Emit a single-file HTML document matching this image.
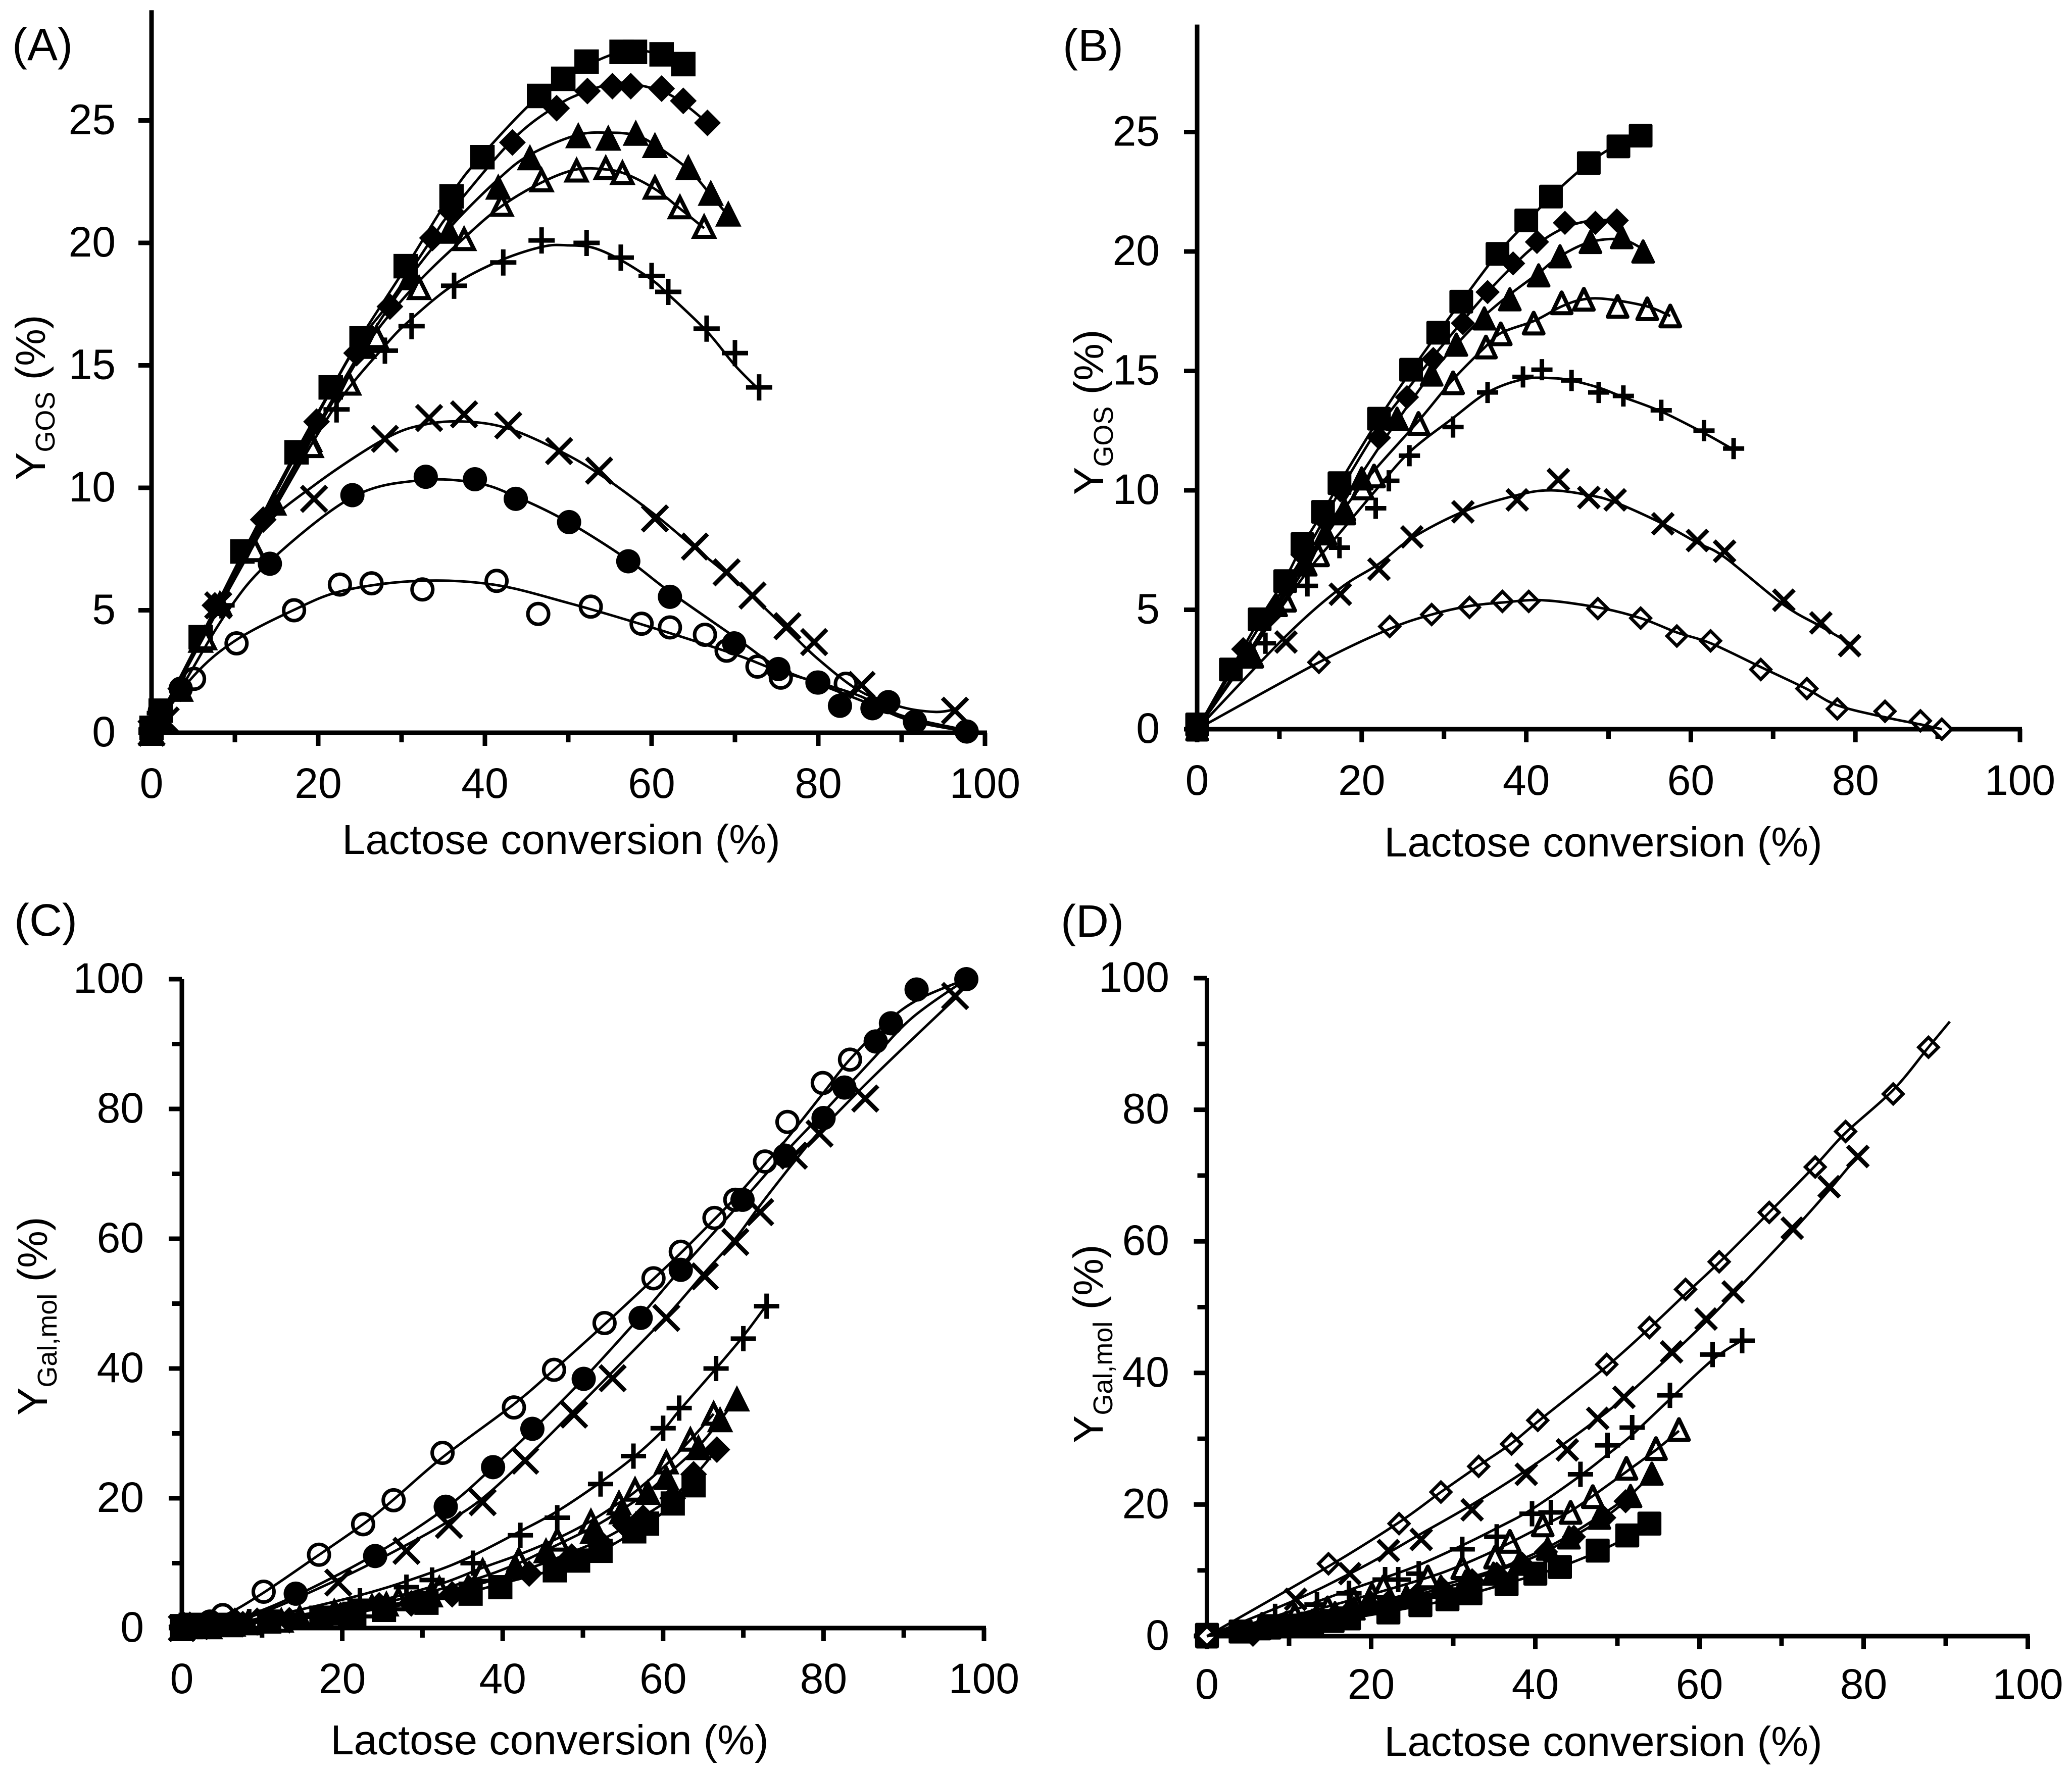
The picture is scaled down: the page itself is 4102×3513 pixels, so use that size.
<!DOCTYPE html>
<html lang="en">
<head>
<meta charset="utf-8">
<title>GOS and galactose yields versus lactose conversion</title>
<style>
html,body{margin:0;padding:0;background:#fff}
svg{display:block}
text{font-family:"Liberation Sans",Arial,sans-serif;fill:#000}
</style>
</head>
<body>
<svg id="figure" xmlns="http://www.w3.org/2000/svg" width="4102" height="3513" viewBox="0 0 4102 3513">
<rect x="0" y="0" width="4102" height="3513" fill="#fff"/>
<g id="panel-a"></g>
<g id="panel-b"></g>
<g id="panel-c"></g>
<g id="panel-d"></g>
<text x="24" y="119" font-size="90">(A)</text>
<text x="2104" y="121" font-size="90">(B)</text>
<text x="28" y="1853" font-size="90">(C)</text>
<text x="2100" y="1855" font-size="90">(D)</text>
<text x="1111" y="1691" font-size="83" text-anchor="middle">Lactose conversion (%)</text>
<text x="3174" y="1696" font-size="83" text-anchor="middle">Lactose conversion (%)</text>
<text x="1088" y="3474" font-size="83" text-anchor="middle">Lactose conversion (%)</text>
<text x="3174" y="3477" font-size="83" text-anchor="middle">Lactose conversion (%)</text>
<text transform="translate(89 951) rotate(-90)" font-size="83">Y<tspan font-size="54" dy="19">GOS</tspan><tspan dy="-19" xml:space="preserve"> (%)</tspan></text>
<text transform="translate(2184 980) rotate(-90)" font-size="83">Y<tspan font-size="54" dy="19">GOS</tspan><tspan dy="-19" xml:space="preserve"> (%)</tspan></text>
<text transform="translate(93 2803) rotate(-90)" font-size="83">Y<tspan font-size="54" dy="19">Gal,mol</tspan><tspan dy="-19" xml:space="preserve"> (%)</tspan></text>
<text transform="translate(2183 2858) rotate(-90)" font-size="83">Y<tspan font-size="54" dy="19">Gal,mol</tspan><tspan dy="-19" xml:space="preserve"> (%)</tspan></text>
</svg>
<script>
// ---- tick labels ----
const xMajorTicks = [0,20,40,60,80,100];
const xMinorTicks = [10,30,50,70,90];
const gosTicks = [0,5,10,15,20,25];
const galTicks = [0,20,40,60,80,100];
const galMinorTicks = [10,30,50,70,90];
const noTicks = [];

// ---- panels A / C : lactose conversion of each series ----
const acSquareX = [0,1.1,5.9,10.9,17.4,21.5,25.2,30.5,36,39.7,46.5,49.4,52.2,56.4,58,61.2,63.8];
const acDiamondX = [0,1,3.5,7.6,13.4,19.8,24.6,28.6,33.7,35.9,43.3,48.6,52.3,55.3,57.5,61.2,63.8,66.7];
const acTriangleX = [0,1,3.5,5.9,8.2,14.7,19,25.5,31,35.7,41.6,45.4,51.2,54.8,58.1,60.4,64.4,67.1,69.2];
const acOpenTriangleX = [0,3.5,6.4,12.4,19.2,23.7,27,32.1,37.5,42,46.8,51,54.5,56.5,60.4,63.4,66.3];
const acPlusX = [0,1,8.4,22.2,28,31.2,36.3,42.2,46.8,52.2,56.3,60,62,66.6,70,72.9];
const acCrossX = [0,1.7,8,19.5,28,33.3,37.5,42.8,48.9,53.7,60.4,65.2,69,72.1,76.3,79.5,85.2,96.4];
const acCircleX = [0,1,3.5,14.2,24.1,32.9,38.8,43.7,50.1,57.2,62.2,69.9,75.2,80,82.6,86.5,88.4,91.6,97.8];
const acOpenCircleX = [0,5.1,10.2,17.1,22.6,26.4,32.5,41.4,46.4,52.7,58.8,62.2,66.4,69,72.7,75.5,79.9,83.3];

// ---- panel A : GOS yield ----
const aSquareY = [0.2,0.9,3.9,7.4,11.45,14.1,16.1,19.05,21.9,23.5,26,26.7,27.4,27.8,27.8,27.7,27.3];
const aDiamondY = [0.2,0.8,1.8,5.2,8.7,12.7,15.5,17.4,20.2,21.3,24.1,25.5,26.2,26.4,26.4,26.3,25.8,24.9];
const aTriangleY = [0.1,0.6,1.8,3.8,5.3,9.4,12,15.8,18.6,20.5,22.3,23.5,24.4,24.3,24.5,24,23.1,22.05,21.2];
const aOpenTriangleY = [0,1.8,3.9,7.5,11.75,14.3,16.2,18.2,20.2,21.6,22.6,23,23.1,22.9,22.3,21.5,20.7];
const aPlusY = [0.1,0.8,5.2,13.2,15.6,16.6,18.25,19.2,20.1,20,19.4,18.65,18,16.5,15.5,14.1];
const aCrossY = [0,0.5,5.2,9.55,12,12.85,13,12.55,11.5,10.7,8.75,7.6,6.55,5.6,4.35,3.7,1.95,0.9];
const aCircleY = [0,0.9,1.8,6.9,9.7,10.45,10.35,9.55,8.6,7,5.55,3.65,2.6,2.05,1.1,1,1.25,0.45,0.05];
const aOpenCircleY = [0,2.2,3.65,5,6.05,6.1,5.85,6.2,4.85,5.15,4.45,4.3,4,3.35,2.7,2.25,2.05,2];

// panel A fitted curves
const aSquareFitX = [0,5.9,10.9,17.4,21.5,25.2,30.5,36,39.7,46.5,52,57,61,63.8];
const aSquareFitY = [0,3.9,7.3,11.5,14,16.2,19,22,23.6,26,27.2,27.85,27.7,27.3];
const aDiamondFitX = [0,7.6,13.4,19.8,24.6,28.6,33.7,36,43.3,48.6,52.3,55.3,57.5,61.2,63.8,66.7];
const aDiamondFitY = [0,5,8.8,12.9,15.8,17.6,20.2,21.3,24.2,25.6,26.2,26.5,26.5,26.2,25.7,24.9];
const aTriangleFitX = [0,8.2,14.7,19,25.5,31,36,41.6,45.4,51,55,58,60.4,64.4,67,69.2];
const aTriangleFitY = [0,5.3,9.4,12,15.8,18.6,20.7,22.6,23.6,24.4,24.5,24.4,24,23,22,21.1];
const aOpenTriangleFitX = [0,6.4,12.4,19.2,24,27,32,37.5,42,47,51,54.5,57,60.4,63.4,66.3];
const aOpenTriangleFitY = [0,4,7.9,12,14.8,16.4,18.4,20.2,21.5,22.5,23,23,22.8,22.2,21.4,20.6];
const aPlusFitX = [0,8.4,15,22,28,31.2,36.3,42,47,50,53,56.3,60,62,66.6,70,72.9];
const aPlusFitY = [0,5.3,9.3,13.3,15.8,16.9,18.3,19.3,19.85,19.9,19.8,19.3,18.5,17.9,16.4,15,14];
const aCrossFitX = [0,8,13,19.5,28,33,38,43,49,54,60.4,65,69,72,76.3,80,85,90,94,96.4];
const aCrossFitY = [0,5.2,8.2,10.1,12,12.6,12.7,12.4,11.5,10.5,8.9,7.6,6.5,5.6,4.2,3,1.7,1.05,0.85,0.95];
const aCircleFitX = [0,3.5,9,14.2,24,32,39,44,50,57,62,70,75,80,86,91,97.8];
const aCircleFitY = [0,1.8,4.9,7,9.6,10.3,10.2,9.6,8.6,7.1,5.8,3.9,2.7,2,1.2,0.5,0.05];
const aOpenCircleFitX = [0,5,10,17,23,32,41,50,60,70,75,80,85,90,97.8];
const aOpenCircleFitY = [0,2.3,3.75,5,5.8,6.2,6.05,5.3,4.3,3.2,2.55,2.05,1.5,0.7,0.1];

// ---- panel C : galactose yield ----
const cSquareY = [0.3,0.5,0.5,1,1.6,2.2,2.8,3.9,5.3,6.3,8.9,10.4,11.9,14.9,16.1,19.2,22];
const cDiamondY = [0.4,0.5,0.3,0.6,1.2,2,3.5,3.8,5.2,6,8.4,11,13,15.8,17,20,23.7,27.5];
const cTriangleY = [0.1,0.3,0.3,0.6,0.9,1.8,2.7,3.8,5.2,6.5,9.5,12,15,18,21,23.3,27.9,32.2,35.4];
const cOpenTriangleY = [0,0.3,0.7,1.3,2.4,3.5,4.6,6.3,9,10.7,13.8,16.6,19.4,21.5,25.7,29.2,33.2];
const cPlusY = [0.1,0.3,1,4.2,6.3,7.4,10,14.3,17,22.2,26.5,30.8,33.9,40,44.6,49.6];
const cCrossY = [0,0.3,1,7,11.9,15.9,19.4,25.8,32.9,38.5,47.8,54.2,59.5,64.1,72.8,76.2,81.6,97.4];
const cCircleY = [0,0.4,1,5.3,11.1,18.7,24.8,30.7,38.4,47.8,55.2,66,72.8,78.6,83.3,90.4,93.2,98.4,100];
const cOpenCircleY = [0,2,5.6,11.3,16,19.7,27,34,39.8,47,53.9,58,63.2,66,71.9,78,84,87.6];

// panel C fitted curves
const cSquareFitX = [0,10.9,21.5,30.5,36,39.7,46.5,49.4,52.2,56.4,58,61.2,63.8];
const cSquareFitY = [0,1,2.4,4.2,5.6,6.8,9,10.3,11.8,14.8,16,19,22];
const cDiamondFitX = [0,13.4,24.6,33.7,43.3,48.6,52.3,55.3,57.5,61.2,63.8,66.7];
const cDiamondFitY = [0,1.4,3.3,5.6,9.2,11.7,13.6,15.6,17.2,20.2,23.3,27.5];
const cTriangleFitX = [0,14.7,25.5,35.7,41.6,45.4,51.2,54.8,58.1,60.4,64.4,67.1,69.2];
const cTriangleFitY = [0,1.8,4,7.2,9.8,12,15.5,18.2,21,23.5,28,32,35.5];
const cOpenTriangleFitX = [0,12.4,23.7,32,37.5,42,46.8,51,54.5,56.5,60.4,63.4,66.3];
const cOpenTriangleFitY = [0,1.6,4,6.7,9.3,11.3,13.8,16.5,19.3,21,25.2,29,33];
const cPlusFitX = [0,8.4,22,31,36,42,46.8,52,56.3,60,62,66.6,70,72.9];
const cPlusFitY = [0,1.2,5,8.5,11,14.8,18,22.3,26.3,30.5,33.5,40,45,49.8];
const cCrossFitX = [0,8,19.5,28,33.3,37.5,42.8,48.9,53.7,60.4,65.2,69,72,76.3,79.5,85,90,96.4];
const cCrossFitY = [0,1.5,7.5,12.8,16.5,20,26,33.5,39.5,48,54.8,60,65,71.8,76.5,83.5,89.5,97];
const cCircleFitX = [0,7,14.2,24,32.9,38.8,43.7,50,57,62,70,75,80,86,91,97.8];
const cCircleFitY = [0,1.5,5,11.3,18.5,24.8,30.5,38.3,47.8,55,66,73,79.5,87.5,94,100];
const cOpenCircleFitX = [0,5,10,17,22.6,26.4,32.5,41.4,46.4,52.7,58.8,62.2,66.4,69,72.7,75.5,80,83.2,88,92,97.8];
const cOpenCircleFitY = [0,1.8,5.3,11.2,16,19.8,26.3,34.5,39.8,46.8,53.8,57.8,63,66.3,71.5,75.5,82.5,87.5,93.5,97,100];

// ---- panels B / D : lactose conversion of each series ----
const bdSquareX = [0,4.1,7.6,10.7,12.8,15.3,17.3,22.1,26,29.3,32.1,36.5,40,43,47.6,51.2,53.9];
const bdDiamondX = [0,5.6,8.7,12.8,15.6,17.4,22.1,25.5,28.7,32.3,35.3,38.4,41.3,44.7,48.4,51];
const bdTriangleX = [0,6.4,9.6,13.2,15.6,17.9,20,24.3,28.5,31.5,34.9,38,41.5,44.1,47.8,51.6,54.2];
const bdOpenTriangleX = [0,6.7,10.7,14.7,17.9,20.1,21.5,26.9,31.1,35.1,36.9,40.9,44.3,47,51.1,54.7,57.5];
const bdPlusX = [0,8.3,13.4,17.3,21.7,23.3,25.8,31.1,35.3,39.6,41.9,45.5,48.8,51.8,56.4,61.6,65.2];
const bdCrossX = [0,10.8,17.4,22.1,26.1,32.3,38.9,43.9,47.6,50.8,56.6,60.8,64.1,71.3,75.8,79.3];
const bdOpenDiamondX = [0,14.8,23.4,28.5,33.1,37.1,40.3,48.7,53.9,58.3,62.4,68.5,74.1,77.8,83.6,87.9,90.5];

// ---- panel B : GOS yield ----
const bSquareY = [0.2,2.5,4.6,6.2,7.75,9.1,10.3,13,15.05,16.6,17.9,19.9,21.3,22.3,23.7,24.4,24.85];
const bDiamondY = [0.1,3.35,4.7,7.3,8.7,10,12.2,13.9,15.5,17,18.3,19.5,20.4,21.2,21.2,21.3];
const bTriangleY = [0,3.2,5.2,6.9,8.2,9.2,10.5,13,14.85,16.1,17.2,18,19,19.8,20.4,20.6,20];
const bOpenTriangleY = [0,3.05,5.4,7.3,9.05,10.1,10.6,12.8,14.5,16,16.55,17,17.85,18,17.7,17.6,17.3];
const bPlusY = [0.1,3.6,6,7.6,9.25,10.4,11.45,12.65,14.1,14.75,15.05,14.6,14.1,13.95,13.35,12.5,11.75];
const bCrossY = [0.1,3.65,5.65,6.7,8.05,9.1,9.6,10.45,9.7,9.6,8.6,7.9,7.45,5.4,4.45,3.5];
const bOpenDiamondY = [0,2.8,4.3,4.8,5.1,5.35,5.35,5.05,4.65,3.9,3.7,2.5,1.7,0.85,0.75,0.35,0];

// panel B fitted curves
const bSquareFitX = [0,4.1,7.6,10.7,12.8,15.3,17.3,22.1,26,29.3,32.1,36.5,40,43,47.6,51.2,53.9];
const bSquareFitY = [0,2.5,4.6,6.3,7.7,9.1,10.3,13,15,16.6,17.9,19.9,21.2,22.3,23.7,24.5,24.9];
const bDiamondFitX = [0,5.6,12.8,17.4,22,25.5,28.7,32.3,35.3,38.4,41.3,44.7,48,51];
const bDiamondFitY = [0,3.2,7.2,10,12.6,14.2,15.6,17.1,18.3,19.4,20.3,21,21.3,21.3];
const bTriangleFitX = [0,6.4,13,20,24.3,28.5,31.5,34.9,38,41.5,44.1,47.8,51.6,54.2];
const bTriangleFitY = [0,3.3,6.9,10.7,12.9,14.9,16.1,17.3,18.2,19.1,19.8,20.4,20.5,20.1];
const bOpenTriangleFitX = [0,6.7,14.7,20,26.9,31,35,37,41,44.3,47,50,54.7,57.5];
const bOpenTriangleFitY = [0,3.3,7.6,10.2,12.9,14.6,16,16.6,17.1,17.7,18,18,17.7,17.3];
const bPlusFitX = [0,8,13.4,17.3,21.7,25.8,31,35.3,39.6,43,45.5,48.8,51.8,56.4,61.6,65.2];
const bPlusFitY = [0,4,6.6,8.2,10,11.6,13,14.1,14.65,14.7,14.6,14.3,13.9,13.3,12.4,11.7];
const bCrossFitX = [0,10.8,17.4,22,26.1,32.3,38.9,43,47.6,50.8,56.6,60.8,64.1,71.3,75.8,79.3];
const bCrossFitY = [0,3.9,5.9,6.9,8,9.1,9.8,10,9.8,9.5,8.6,7.8,7.2,5.2,4.3,3.6];
const bOpenDiamondFitX = [0,14.8,23.4,28.5,33,37,42,48.7,53.9,58.3,62.4,68.5,74,77.8,83.6,87.9,90.5];
const bOpenDiamondFitY = [0,2.8,4.2,4.8,5.15,5.3,5.4,5.1,4.65,4.05,3.6,2.6,1.7,1,0.5,0.2,0];

// ---- panel D : galactose yield ----
const dSquareY = [0.2,0.7,1.3,1.6,1.9,2.3,2.7,3.6,4.7,5.6,6.5,7.9,9.5,10.5,13,15.3,17.1];
const dDiamondY = [0.1,0.2,1.5,2.4,3.2,3.8,5.2,6.2,7.2,8.5,9.5,11,12.8,15.1,18,20.5];
const dTriangleY = [0,1.2,2,2.7,3.5,4.2,5,6,7.5,8.3,9.5,11,13.3,15,18,21.3,24.7];
const dOpenTriangleY = [0,1.8,3.2,4.3,5.5,6.3,7.5,9,10.4,12,14.4,16.9,18.8,21.2,25.5,28.5,31.4];
const dPlusY = [0.1,3,4.8,6.5,8.6,8.6,9.5,13.2,15.1,18.6,18.8,24.6,29,31.7,36.6,42.8,44.9];
const dCrossY = [0.1,5.6,9.5,13,14.7,19.2,24.6,28.3,33.1,36.3,43.2,48.2,52.3,62,68.3,72.9];
const dOpenDiamondY = [0,11,17.1,21.9,25.8,29.2,32.8,41.3,46.9,52.7,56.9,64.4,71.3,76.7,82.4,89.5];

// panel D fitted curves
const dSquareFitX = [0,7.6,15.3,22.1,29.3,36.5,40,43,47.6,51.2,53.9];
const dSquareFitY = [0,1.1,2.3,3.7,5.5,8,9.3,10.5,12.8,15,17.1];
const dDiamondFitX = [0,12.8,22,28.7,32.3,38.4,41.3,44.7,48.4,51];
const dDiamondFitY = [0,2.6,5.2,7.3,8.6,11.3,12.9,15.2,18,20.5];
const dTriangleFitX = [0,9.6,20,28.5,34.9,38,41.5,44.1,47.8,51.6,54.2];
const dTriangleFitY = [0,2.2,5,7.7,10,11.5,13.5,15.3,18.2,21.5,24.7];
const dOpenTriangleFitX = [0,10.7,17.9,26.9,31,35,41,44.3,47,51.1,54.7,57.5];
const dOpenTriangleFitY = [0,3.2,5.6,8.9,10.8,13,16.8,19,21.3,25,28.3,31.2];
const dPlusFitX = [0,8.3,17.3,21.7,25.8,31.1,35.3,39.6,45.5,48.8,51.8,56.4,61.6,65.2];
const dPlusFitY = [0,3,7,8.9,10.8,13.8,16.4,19.3,24.4,27.6,30.6,36,42,45];
const dCrossFitX = [0,10.8,17.4,22,26,32.3,38.9,43.9,47.6,50.8,56.6,60.8,64.1,71.3,75.8,79.3];
const dCrossFitY = [0,5.5,9.5,12.6,15.5,20,25.2,29.6,33,36.2,42.8,47.8,52,61.5,67.8,73];
const dOpenDiamondFitX = [0,14.8,23.4,28.5,33.1,37.1,40.3,48.7,53.9,58.3,62.4,68.5,74.1,77.8,83.6,87.9,90.5];
const dOpenDiamondFitY = [0,10.6,17.3,21.9,25.9,29.3,32.6,41,46.8,52,56.8,64.4,71.5,76.5,83,89.5,93.4];

// ---- drawing ----
const SVGNS = 'http://www.w3.org/2000/svg';
function el(tag, parent, attrs) {
  const e = document.createElementNS(SVGNS, tag);
  for (const k in attrs) e.setAttribute(k, attrs[k]);
  parent.appendChild(e);
  return e;
}
function smoothPath(px, py) {
  let d = 'M' + px[0].toFixed(1) + ' ' + py[0].toFixed(1);
  for (let i = 0; i < px.length - 1; i++) {
    const p0 = Math.max(i - 1, 0), p3 = Math.min(i + 2, px.length - 1);
    const c1x = px[i] + (px[i + 1] - px[p0]) / 6, c1y = py[i] + (py[i + 1] - py[p0]) / 6;
    const c2x = px[i + 1] - (px[p3] - px[i]) / 6, c2y = py[i + 1] - (py[p3] - py[i]) / 6;
    d += 'C' + c1x.toFixed(1) + ' ' + c1y.toFixed(1) + ' ' + c2x.toFixed(1) + ' ' + c2y.toFixed(1) + ' ' + px[i + 1].toFixed(1) + ' ' + py[i + 1].toFixed(1);
  }
  return d;
}
function drawMarker(parent, kind, cx, cy, cfg) {
  let m;
  if (kind === 'square') {
    const s = cfg.squareSize;
    m = el('rect', parent, {x: cx - s / 2, y: cy - s / 2, width: s, height: s, rx: cfg.rounded ? 3 : 0, fill: '#000'});
  } else if (kind === 'diamond') {
    const h = cfg.diamondHalf;
    m = el('polygon', parent, {points: [cx, cy - h, cx + h, cy, cx, cy + h, cx - h, cy].join(' '), fill: '#000'});
  } else if (kind === 'openDiamond') {
    m = el('polygon', parent, {points: [cx, cy - 19.5, cx + 19.5, cy, cx, cy + 19.5, cx - 19.5, cy].join(' '), fill: '#fff', stroke: '#000', 'stroke-width': 6.5});
  } else if (kind === 'triangle') {
    if (cfg.rounded) {
      m = el('polygon', parent, {points: [cx, cy - 21, cx + 20.5, cy + 21, cx - 20.5, cy + 21].join(' '), fill: '#000', stroke: '#000', 'stroke-width': 6, 'stroke-linejoin': 'round'});
    } else {
      m = el('polygon', parent, {points: [cx, cy - 26, cx + 26, cy + 26, cx - 26, cy + 26].join(' '), fill: '#000'});
    }
  } else if (kind === 'openTriangle') {
    if (cfg.rounded) {
      m = el('polygon', parent, {points: [cx, cy - 20.5, cx + 19.5, cy + 20.5, cx - 19.5, cy + 20.5].join(' '), fill: '#fff', stroke: '#000', 'stroke-width': 8, 'stroke-linejoin': 'round'});
    } else {
      m = el('polygon', parent, {points: [cx, cy - 17, cx + 19.5, cy + 22, cx - 19.5, cy + 22].join(' '), fill: '#fff', stroke: '#000', 'stroke-width': 8, 'stroke-linejoin': 'miter'});
    }
  } else if (kind === 'circle') {
    m = el('circle', parent, {cx: cx, cy: cy, r: 24, fill: '#000'});
  } else if (kind === 'openCircle') {
    m = el('circle', parent, {cx: cx, cy: cy, r: 20.5, fill: '#fff', stroke: '#000', 'stroke-width': 7});
  } else if (kind === 'plus') {
    const h = cfg.plusHalf;
    m = el('path', parent, {d: 'M' + (cx - h) + ' ' + cy + 'H' + (cx + h) + 'M' + cx + ' ' + (cy - h) + 'V' + (cy + h), stroke: '#000', 'stroke-width': 9, fill: 'none'});
  } else {
    const h = cfg.crossHalf;
    m = el('path', parent, {d: 'M' + (cx - h) + ' ' + (cy - h) + 'L' + (cx + h) + ' ' + (cy + h) + 'M' + (cx + h) + ' ' + (cy - h) + 'L' + (cx - h) + ' ' + (cy + h), stroke: '#000', 'stroke-width': 8.5, fill: 'none'});
  }
  return m;
}
function drawPanel(cfg) {
  const g = document.getElementById(cfg.id);
  const X = v => cfg.x0 + v * cfg.xUnit;
  const Y = v => cfg.y0 - v * cfg.yUnit;
  const axes = el('g', g, {});
  
  
  const yAxis = el('line', axes, {x1: cfg.x0, x2: cfg.x0, y1: Y(cfg.yMax) , y2: cfg.y0 + 4.5, stroke: '#000', 'stroke-width': 9});
  
  
  const xAxis = el('line', axes, {x1: cfg.x0 - 4.5, x2: X(100) + 4, y1: cfg.y0, y2: cfg.y0, stroke: '#000', 'stroke-width': 9});
  
  
  xMajorTicks.forEach(v => {
    const t = el('line', axes, {x1: X(v), x2: X(v), y1: cfg.y0, y2: cfg.y0 + 26, stroke: '#000', 'stroke-width': 9});
    
    
    const l = el('text', axes, {x: X(v), y: cfg.xLabelY, 'font-size': 84, 'text-anchor': 'middle'});
    
    
    l.textContent = v;
  });
  xMinorTicks.forEach(v => {
    const t = el('line', axes, {x1: X(v), x2: X(v), y1: cfg.y0, y2: cfg.y0 + 19, stroke: '#000', 'stroke-width': 9});
    
    
  });
  cfg.yTicks.forEach(v => {
    const t = el('line', axes, {x1: cfg.x0 - 26, x2: cfg.x0, y1: Y(v), y2: Y(v), stroke: '#000', 'stroke-width': 9});
    
    
    const l = el('text', axes, {x: cfg.yLabelX, y: Y(v) + 27, 'font-size': 84, 'text-anchor': 'end'});
    
    
    l.textContent = v;
  });
  cfg.yMinor.forEach(v => {
    const t = el('line', axes, {x1: cfg.x0 - 19, x2: cfg.x0, y1: Y(v), y2: Y(v), stroke: '#000', 'stroke-width': 9});
    
    
  });
  const markerLayer = el('g', g, {});
  
  
  cfg.series.forEach(s => {
    const sg = el('g', markerLayer, {});
    
    
    for (let i = 0; i < s.y.length; i++) {
      const m = drawMarker(sg, s.kind, X(s.x[i]), Y(s.y[i]), cfg);
      
      
    }
  });
  const curveLayer = el('g', g, {});
  
  
  cfg.series.forEach(s => {
    const c = el('path', curveLayer, {d: smoothPath(s.fx.map(X), s.fy.map(Y)), fill: 'none', stroke: '#000', 'stroke-width': 5});
    
    
  });
}

drawPanel({id: 'panel-a', x0: 300, xUnit: 16.5, y0: 1451, yUnit: 48.5, yMax: 29.5, yTicks: gosTicks, yMinor: noTicks, yLabelX: 229, xLabelY: 1580, plusHalf: 26, crossHalf: 25, squareSize: 48.5, diamondHalf: 26.5, rounded: false,
  series: [
    {kind: 'square', x: acSquareX, y: aSquareY, fx: aSquareFitX, fy: aSquareFitY},
    {kind: 'diamond', x: acDiamondX, y: aDiamondY, fx: aDiamondFitX, fy: aDiamondFitY},
    {kind: 'triangle', x: acTriangleX, y: aTriangleY, fx: aTriangleFitX, fy: aTriangleFitY},
    {kind: 'openTriangle', x: acOpenTriangleX, y: aOpenTriangleY, fx: aOpenTriangleFitX, fy: aOpenTriangleFitY},
    {kind: 'plus', x: acPlusX, y: aPlusY, fx: aPlusFitX, fy: aPlusFitY},
    {kind: 'cross', x: acCrossX, y: aCrossY, fx: aCrossFitX, fy: aCrossFitY},
    {kind: 'openCircle', x: acOpenCircleX, y: aOpenCircleY, fx: aOpenCircleFitX, fy: aOpenCircleFitY},
    {kind: 'circle', x: acCircleX, y: aCircleY, fx: aCircleFitX, fy: aCircleFitY}
  ]});
drawPanel({id: 'panel-b', x0: 2370, xUnit: 16.29, y0: 1444, yUnit: 47.3, yMax: 29.5, yTicks: gosTicks, yMinor: noTicks, yLabelX: 2296, xLabelY: 1574, plusHalf: 21, crossHalf: 20.5, squareSize: 47, diamondHalf: 24, rounded: true,
  series: [
    {kind: 'openDiamond', x: bdOpenDiamondX, y: bOpenDiamondY, fx: bOpenDiamondFitX, fy: bOpenDiamondFitY},
    {kind: 'cross', x: bdCrossX, y: bCrossY, fx: bCrossFitX, fy: bCrossFitY},
    {kind: 'plus', x: bdPlusX, y: bPlusY, fx: bPlusFitX, fy: bPlusFitY},
    {kind: 'openTriangle', x: bdOpenTriangleX, y: bOpenTriangleY, fx: bOpenTriangleFitX, fy: bOpenTriangleFitY},
    {kind: 'triangle', x: bdTriangleX, y: bTriangleY, fx: bTriangleFitX, fy: bTriangleFitY},
    {kind: 'diamond', x: bdDiamondX, y: bDiamondY, fx: bDiamondFitX, fy: bDiamondFitY},
    {kind: 'square', x: bdSquareX, y: bSquareY, fx: bSquareFitX, fy: bSquareFitY}
  ]});
drawPanel({id: 'panel-c', x0: 360, xUnit: 15.88, y0: 3224, yUnit: 12.85, yMax: 100, yTicks: galTicks, yMinor: galMinorTicks, yLabelX: 285, xLabelY: 3353, plusHalf: 25, crossHalf: 25, squareSize: 48, diamondHalf: 26.5, rounded: false,
  series: [
    {kind: 'openTriangle', x: acOpenTriangleX, y: cOpenTriangleY, fx: cOpenTriangleFitX, fy: cOpenTriangleFitY},
    {kind: 'plus', x: acPlusX, y: cPlusY, fx: cPlusFitX, fy: cPlusFitY},
    {kind: 'cross', x: acCrossX, y: cCrossY, fx: cCrossFitX, fy: cCrossFitY},
    {kind: 'openCircle', x: acOpenCircleX, y: cOpenCircleY, fx: cOpenCircleFitX, fy: cOpenCircleFitY},
    {kind: 'circle', x: acCircleX, y: cCircleY, fx: cCircleFitX, fy: cCircleFitY},
    {kind: 'triangle', x: acTriangleX, y: cTriangleY, fx: cTriangleFitX, fy: cTriangleFitY},
    {kind: 'diamond', x: acDiamondX, y: cDiamondY, fx: cDiamondFitX, fy: cDiamondFitY},
    {kind: 'square', x: acSquareX, y: cSquareY, fx: cSquareFitX, fy: cSquareFitY}
  ]});
drawPanel({id: 'panel-d', x0: 2389.5, xUnit: 16.25, y0: 3240, yUnit: 13.03, yMax: 100, yTicks: galTicks, yMinor: galMinorTicks, yLabelX: 2315, xLabelY: 3364, plusHalf: 25, crossHalf: 20.5, squareSize: 47.5, diamondHalf: 24, rounded: true,
  series: [
    {kind: 'cross', x: bdCrossX, y: dCrossY, fx: dCrossFitX, fy: dCrossFitY},
    {kind: 'plus', x: bdPlusX, y: dPlusY, fx: dPlusFitX, fy: dPlusFitY},
    {kind: 'openTriangle', x: bdOpenTriangleX, y: dOpenTriangleY, fx: dOpenTriangleFitX, fy: dOpenTriangleFitY},
    {kind: 'triangle', x: bdTriangleX, y: dTriangleY, fx: dTriangleFitX, fy: dTriangleFitY},
    {kind: 'diamond', x: bdDiamondX, y: dDiamondY, fx: dDiamondFitX, fy: dDiamondFitY},
    {kind: 'square', x: bdSquareX, y: dSquareY, fx: dSquareFitX, fy: dSquareFitY},
    {kind: 'openDiamond', x: bdOpenDiamondX, y: dOpenDiamondY, fx: dOpenDiamondFitX, fy: dOpenDiamondFitY}
  ]});
</script>
</body>
</html>
